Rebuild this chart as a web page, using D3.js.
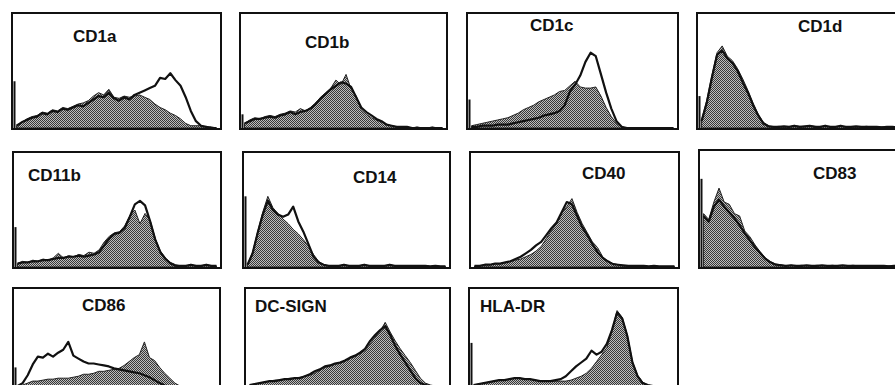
<!DOCTYPE html>
<html>
<head>
<meta charset="utf-8">
<title>Surface marker histograms</title>
<script src="https://d3js.org/d3.v7.min.js"></script>
<style>
    body { margin: 0; background: #fff; }
    svg { display: block; }
    .label {
        font-family: "Liberation Sans", Arial, sans-serif;
        font-weight: bold;
        font-size: 17px;
        fill: #111;
    }
</style>
</head>
<body>
<svg id="chart" width="895" height="385"></svg>

<script>
    // marker names, one panel each
    const markers = ["CD1a", "CD1b", "CD1c", "CD1d", "CD11b", "CD14", "CD40", "CD83", "CD86", "DC-SIGN", "HLA-DR"]

    // 40 channel bins per histogram, % of panel height (gray = filled, open = outlined)
    const cd1aGray = [2,5,8,10,11,14,13,16,15,18,17,19,21,22,24,28,31,29,34,27,26,28,27,28,29,27,25,21,18,16,13,11,8,4,2,2,2,1,1,0]
    const cd1aOpen = [2,5,7,9,10,13,12,15,14,17,16,18,20,19,22,25,28,27,31,26,24,27,25,29,31,33,35,37,44,43,48,42,37,27,15,6,2,1,0,0]
    const cd1bGray = [4,7,9,8,10,11,10,12,13,15,14,17,15,18,22,27,31,35,42,38,47,34,28,16,12,9,7,5,3,2,1,1,1,0,1,0,0,1,0,0]
    const cd1bOpen = [4,6,8,8,9,10,9,11,12,14,12,14,15,17,21,26,30,34,37,40,39,36,27,18,14,11,8,6,3,2,1,1,1,0,0,0,0,0,0,0]
    const cd1cGray = [2,3,4,5,6,7,8,9,11,13,16,18,20,23,25,27,29,32,33,37,41,36,35,35,36,28,18,10,4,1,0,0,0,0,0,0,0,0,0,0]
    const cd1cOpen = [1,1,2,2,2,3,3,3,4,5,6,7,8,9,11,12,13,15,20,32,38,46,58,66,63,47,31,17,6,1,0,0,0,0,0,0,0,0,0,0]
    const cd1dGray = [7,24,46,66,72,63,59,52,43,33,22,12,5,2,1,1.5,1,1,2,1.5,1,2,1.5,1,1.5,1,1,1.5,1,1,1,1,1.5,1,0.5,1,0.5,1,0.5,0.5]
    const cd1dOpen = [6,22,44,64,68,61,57,50,40,31,20,11,4,1.5,1,1,1.5,1,2,1,1.5,2,1,1,2,1,1,2,1,1,1.5,1,1,1,1,0.5,1,1,0.5,0.5]
    const cd11bGray = [3,5,4,6,5,7,6,8,12,8,10,9,11,10,13,12,15,22,27,30,31,36,45,50,38,47,41,25,14,8,4,2,1,1,2,1,1,2,1,1]
    const cd11bOpen = [3,4,4,5,5,6,6,7,8,8,9,9,10,9,10,11,13,19,25,29,30,34,44,55,58,54,40,24,13,7,3,1,1,1,2,1,1,2,1,1]
    const cd14Gray = [2,13,31,48,62,52,47,42,38,33,29,24,18,11,5,2,1,1,1,2,1,1,1,2,1,1,1,1,2,1,1,1,1,1,1,1,0.5,1,0.5,0.5]
    const cd14Open = [2,12,30,46,58,50,46,44,46,53,40,31,20,9,4,2,1,1,1,2,1,1,1,2,1,1,1,1,2,1,1,1,1,1,1,1,0.5,1,0.5,0.5]
    const cd40Gray = [1,1,2,2,3,3,4,5,6,7,9,11,14,18,25,32,38,47,53,60,48,38,30,22,17,9,5,3,2,1,1,1,1,1,0.5,1,0.5,0.5,0.5,0.5]
    const cd40Open = [1,1,2,2,3,3,4,5,7,9,12,15,19,22,28,34,39,48,57,55,45,35,28,20,13,8,5,2.5,2,1.5,1,1,1,1,0.5,1,0.5,0.5,0.5,0.5]
    const cd83Gray = [46,41,56,68,56,54,46,44,31,26,19,13,8,4.5,2.5,2,1,1.5,1,1.5,1,1,1.5,1,1,1.5,1,1,1,1.5,1,1,1,1,1,0.5,1,0.5,0.5,0.5]
    const cd83Open = [44,39,52,58,52,47,42,36,29,23,17,12,7,4,2,1.5,1,1.5,1,1,1.5,1,1,1.5,1,1,1,1.5,1,1,1,1,1,1,1,1,0.5,1,0.5,0.5]
    const cd86Gray = [1,2,4,6,6,7,8,8,9,9,9,10,11,13,13,14,16,16,17,18,19,22,26,30,33,46,30,27,20,14,9,4,1,0,0,0,0,0,0,0]
    const cd86Open = [1,4,12,23,31,30,34,31,35,38,46,32,29,26,24,24,23,22,21,19,18,17,16,15,14,12,10,7,4,1.5,0.5,0,0,0,0,0,0,0,0,0]
    const dcsignGray = [2,3,4,5,6,7,7,8,9,9,10,11,12,14,17,20,21,23,24,26,29,31,34,37,44,51,57,66,56,47,39,32,25,17,9,4,2,1,1,1]
    const dcsignOpen = [2,3,4,5,6,6,7,8,8,9,9,11,13,16,18,21,22,24,25,27,30,32,35,39,47,53,58,62,53,42,33,25,17,9,4,2,1,1,1,1]
    const hladrGray = [2,3,4,5,6,7,7,8,9,9,8,8,7,6,6,6,6,6,6,7,9,11,14,19,26,33,40,57,78,71,53,26,12,5,2,1,1,1,1,1]
    const hladrOpen = [2,3,4,5,6,7,7,8,9,9,8,8,7,6,6,6,7,8,11,16,21,25,29,37,33,36,44,58,76,70,52,25,11,4,2,1,1,1,1,1]

    // height of the off-scale first channel (left edge spike), %
    const edgeSpikes = [41, 12, 25, 28, 35, 62, 0, 76, 20, 0, 45]

    const grayData = [cd1aGray, cd1bGray, cd1cGray, cd1dGray, cd11bGray, cd14Gray, cd40Gray, cd83Gray, cd86Gray, dcsignGray, hladrGray]
    const openData = [cd1aOpen, cd1bOpen, cd1cOpen, cd1dOpen, cd11bOpen, cd14Open, cd40Open, cd83Open, cd86Open, dcsignOpen, hladrOpen]

    // panel boxes [x, y, w, h] and label anchor [x, baseline]
    const frames = [
        [12, 13, 209, 116], [240, 13, 207, 116], [467, 13, 211, 116], [697, 13, 210, 116],
        [13, 152, 208, 116], [243, 152, 207, 116], [470, 152, 209, 116], [699, 150, 210, 118],
        [13, 288, 207, 100], [245, 288, 205, 100], [469, 288, 209, 100]
    ]
    const labelAt = [
        [73, 42], [305, 48], [530, 31], [798, 32],
        [28, 181], [353, 183], [582, 179], [813, 179],
        [82, 311], [255, 312], [480, 312]
    ]

    const svg = d3.select("#chart")

    // dithered gray fill like the scanned figure
    const pat = svg.append("defs").append("pattern")
        .attr("id", "dither")
        .attr("width", 2).attr("height", 2)
        .attr("patternUnits", "userSpaceOnUse")
    pat.append("rect").attr("width", 2).attr("height", 2).attr("fill", "#bdbdbd")
    pat.append("rect").attr("width", 1).attr("height", 1).attr("fill", "#383838")
    pat.append("rect").attr("x", 1).attr("y", 1).attr("width", 1).attr("height", 1).attr("fill", "#383838")

    markers.forEach((name, k) => {
        const [fx, fy, fw, fh] = frames[k]
        const g = svg.append("g")

        const x = d3.scaleLinear([0, grayData[k].length], [fx + 2, fx + fw - 2])
        const y = d3.scaleLinear([0, 100], [fy + fh - 1, fy + 1])

        const area = d3.area()
            .x((d, i) => x(i + 0.5))
            .y0(y(0))
            .y1(d => y(d))
        const line = d3.line()
            .x((d, i) => x(i + 0.5))
            .y(d => y(d))

        g.append("path")
            .datum(grayData[k])
            .attr("d", area)
            .attr("fill", "url(#dither)")
            .attr("stroke", "#222")
            .attr("stroke-width", 1)

        g.append("path")
            .datum(openData[k])
            .attr("d", line)
            .attr("fill", "none")
            .attr("stroke", "#111")
            .attr("stroke-width", 2.2)
            .attr("stroke-linejoin", "round")

        if (edgeSpikes[k] > 0) {
            g.append("line")
                .attr("x1", x(0) + 0.5).attr("x2", x(0) + 0.5)
                .attr("y1", y(0)).attr("y2", y(edgeSpikes[k]))
                .attr("stroke", "#111")
                .attr("stroke-width", 2)
        }

        g.append("rect")
            .attr("x", fx).attr("y", fy)
            .attr("width", fw).attr("height", fh)
            .attr("fill", "none")
            .attr("stroke", "#111")
            .attr("stroke-width", 2)

        g.append("text")
            .attr("class", "label")
            .attr("x", labelAt[k][0])
            .attr("y", labelAt[k][1])
            .text(name)
    })
</script>
</body>
</html>
